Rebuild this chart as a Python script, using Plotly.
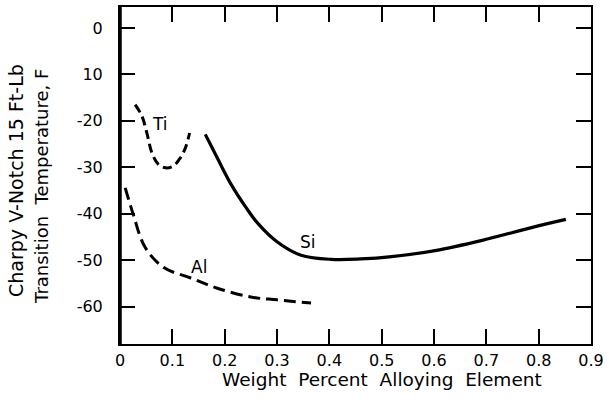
import plotly.graph_objects as go

# Transition temperature vs. weight percent of each alloying element
ti_x = [0.029, 0.042, 0.052, 0.061, 0.073, 0.087, 0.102, 0.115, 0.125, 0.133]
ti_y = [-16.5, -19.0, -22.9, -26.9, -29.3, -30.1, -29.7, -28.0, -25.8, -22.6]

si_x = [0.163, 0.186, 0.212, 0.240, 0.263, 0.300, 0.346, 0.404, 0.460, 0.519, 0.602, 0.692, 0.788, 0.852]
si_y = [-22.9, -28.0, -33.6, -38.5, -42.0, -46.0, -48.9, -49.8, -49.7, -49.2, -47.9, -45.7, -42.9, -41.2]

al_x = [0.010, 0.025, 0.048, 0.083, 0.135, 0.186, 0.250, 0.300, 0.365]
al_y = [-34.4, -40.0, -47.2, -51.5, -53.8, -56.0, -57.9, -58.5, -59.2]

x_ticks = [0, 0.1, 0.2, 0.3, 0.4, 0.5, 0.6, 0.7, 0.8, 0.9]
x_tick_text = ["0", "0.1", "0.2", "0.3", "0.4", "0.5", "0.6", "0.7", "0.8", "0.9"]
y_ticks = [0, -10, -20, -30, -40, -50, -60]
y_tick_text = ["0", "10", "-20", "-30", "-40", "-50", "-60"]

curve_labels = [("Ti", 0.076, -20.7), ("Si", 0.359, -46.1), ("Al", 0.151, -51.5)]

FONT = "DejaVu Sans, Verdana, sans-serif"

fig = go.Figure()
fig.add_trace(go.Scatter(x=ti_x, y=ti_y, mode="lines", line_shape="spline",
                         line=dict(color="black", width=3, dash="9px,5px")))
fig.add_trace(go.Scatter(x=si_x, y=si_y, mode="lines", line_shape="spline",
                         line=dict(color="black", width=3.2)))
fig.add_trace(go.Scatter(x=al_x, y=al_y, mode="lines", line_shape="spline",
                         line=dict(color="black", width=3, dash="12px,6px")))

for name, lx, ly in curve_labels:
    fig.add_annotation(x=lx, y=ly, text=name, showarrow=False,
                       font=dict(size=17, color="black", family=FONT))

# Axis titles
fig.add_annotation(xref="paper", yref="paper", x=0, y=0.4838, xshift=-104,
                   text="Charpy V-Notch 15 Ft-Lb", textangle=-90, showarrow=False,
                   xanchor="center", yanchor="middle",
                   font=dict(size=19, color="black", family=FONT))
fig.add_annotation(xref="paper", yref="paper", x=0, y=0.466, xshift=-78,
                   text="Transition  Temperature, F", textangle=-90, showarrow=False,
                   xanchor="center", yanchor="middle",
                   font=dict(size=18, color="black", family=FONT))
fig.add_annotation(xref="paper", yref="paper", x=0.557, y=-0.106,
                   text="Weight  Percent  Alloying  Element", showarrow=False,
                   xanchor="center", yanchor="middle",
                   font=dict(size=18.5, color="black", family=FONT))

# Heavier left spine
fig.add_shape(type="line", xref="paper", yref="paper", x0=0, x1=0, y0=0, y1=1,
              line=dict(color="black", width=3.5))

axis_common = dict(showgrid=False, zeroline=False, showline=True, linecolor="black",
                   linewidth=2, mirror="ticks", ticks="inside", ticklen=15,
                   tickwidth=1.6, tickcolor="black",
                   tickfont=dict(size=16, color="black", family=FONT))

fig.update_xaxes(range=[0, 0.9], tickvals=x_ticks, ticktext=x_tick_text,
                 ticklabelstandoff=1, **axis_common)
fig.update_yaxes(range=[-68, 4.5], tickvals=y_ticks, ticktext=y_tick_text,
                 ticklabelstandoff=12, **axis_common)

fig.update_layout(width=609, height=409, showlegend=False,
                  margin=dict(l=120, r=17, t=5, b=65),
                  plot_bgcolor="white", paper_bgcolor="white")

fig.write_html("out.html")
